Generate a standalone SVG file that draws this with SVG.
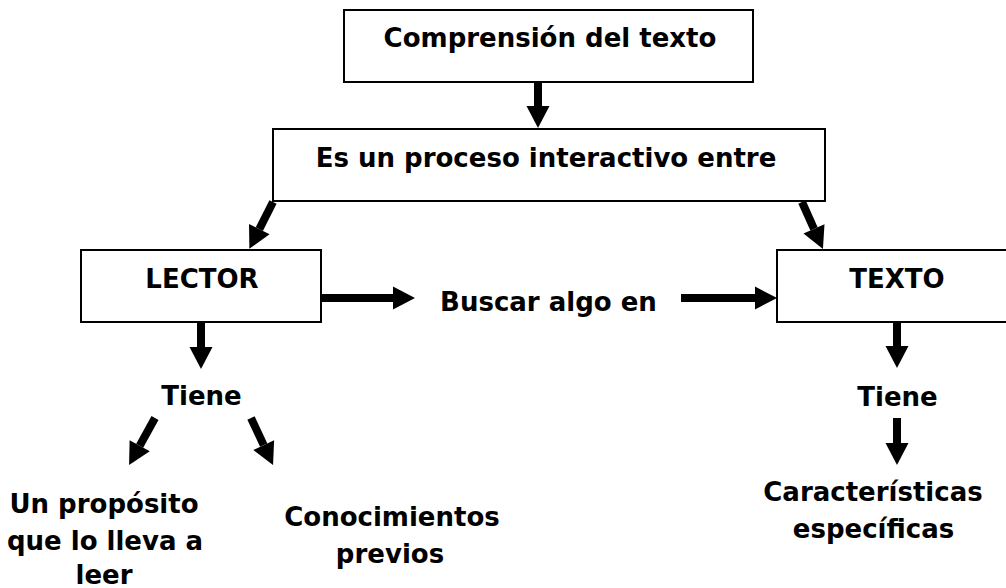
<svg xmlns="http://www.w3.org/2000/svg" width="1006" height="588" viewBox="0 0 1006 588">
<defs>
<marker id="ah" markerUnits="userSpaceOnUse" markerWidth="24" markerHeight="24" refX="0" refY="11.5" orient="auto" overflow="visible">
<path d="M0,0 L22,11.5 L0,23 z" fill="#000"/>
</marker>
<style>
.box{fill:#fff;stroke:#000;stroke-width:2}
.t{font-family:"DejaVu Sans","Verdana",sans-serif;font-weight:bold;font-size:26px;fill:#000;text-anchor:middle}
.c{stroke:#000;stroke-width:8;fill:none;marker-end:url(#ah)}
</style>
</defs>
<rect width="1006" height="588" fill="#fff"/>
<g id="n-comprension">
<rect class="box" x="344" y="10" width="409" height="72"/>
<text class="t" x="550" y="47">Comprensión del texto</text>
</g>
<g id="n-proceso">
<rect class="box" x="273" y="129" width="552" height="72"/>
<text class="t" x="546" y="167">Es un proceso interactivo entre</text>
</g>
<g id="n-lector">
<rect class="box" x="81" y="250" width="240" height="72"/>
<text class="t" x="202" y="288">LECTOR</text>
</g>
<g id="n-texto">
<rect class="box" x="777" y="250" width="240" height="72"/>
<text class="t" x="897" y="288">TEXTO</text>
</g>
<g id="n-buscar">
<text class="t" x="548.5" y="311">Buscar algo en</text>
</g>
<g id="n-tiene1">
<text class="t" x="201.5" y="405">Tiene</text>
</g>
<g id="n-tiene2">
<text class="t" x="897.5" y="406">Tiene</text>
</g>
<g id="n-proposito">
<text class="t" x="104" y="513">Un propósito</text>
<text class="t" x="105" y="550">que lo lleva a</text>
<text class="t" x="104" y="584">leer</text>
</g>
<g id="n-conocimientos">
<text class="t" x="392" y="526">Conocimientos</text>
<text class="t" x="390" y="563">previos</text>
</g>
<g id="n-caracteristicas">
<text class="t" x="873" y="501">Características</text>
<text class="t" x="873.5" y="538">específicas</text>
</g>
<g id="connectors">
<line class="c" x1="538" y1="83" x2="538" y2="106"/>
<line class="c" x1="273" y1="202" x2="259.3" y2="229.1"/>
<line class="c" x1="802" y1="202" x2="814" y2="228.9"/>
<line class="c" x1="322" y1="298" x2="393" y2="298"/>
<line class="c" x1="681" y1="298" x2="755" y2="298"/>
<line class="c" x1="201" y1="323" x2="201" y2="347"/>
<line class="c" x1="155" y1="418" x2="139.7" y2="445.8"/>
<line class="c" x1="251" y1="418" x2="263.7" y2="445.1"/>
<line class="c" x1="897" y1="323" x2="897" y2="346"/>
<line class="c" x1="897" y1="418" x2="897" y2="443"/>
</g>
</svg>
